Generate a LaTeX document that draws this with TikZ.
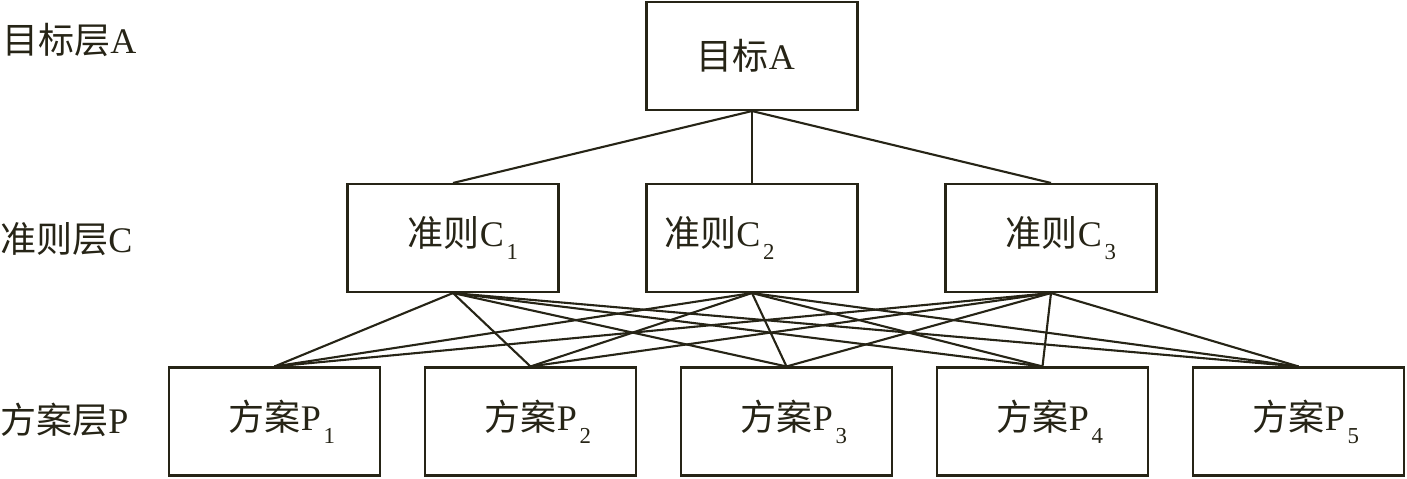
\documentclass[tikz,border=0pt]{standalone}
\usepackage{fontspec}
\setmainfont{Liberation Serif}
\newfontfamily\cjk{Noto Sans CJK SC}
\usetikzlibrary{positioning}
\definecolor{InkLine}{RGB}{38,36,22}
\newcommand{\lowidx}[1]{\kern1.5pt\raisebox{-7.5pt}{\fontsize{13}{13}\selectfont #1}}

\begin{document}
\begin{tikzpicture}[x=0.02cm, y=-0.02cm,
    levelbox/.style={draw=InkLine, line width=1.2pt, minimum width=4.22cm,
        minimum height=2.16cm, inner sep=0pt, text=InkLine,
        font=\fontsize{20.5}{24}\selectfont},
    levellbl/.style={anchor=west, inner sep=0pt, text=InkLine,
        font=\fontsize{20.5}{24}\selectfont},
    link/.style={draw=InkLine, line width=1.2pt}
]
\useasboundingbox (0,0) rectangle (1407,478);

% ===================================================================
% LEVEL LABELS (left column)
% ===================================================================
\node[levellbl] (lblA) at (2,40) {{\cjk 目标层}A};
\node[levellbl] (lblC) at (0,239) {{\cjk 准则层}C};
\node[levellbl] (lblP) at (0,420) {{\cjk 方案层}P};

% ===================================================================
% GOAL (top row)
% ===================================================================
\node[levelbox] (goal) at (752,56) {{\cjk 目标}A\hspace*{0.25cm}};

% ===================================================================
% CRITERIA (middle row)
% ===================================================================
\node[levelbox] (crit1) at (453,238) {\hspace*{0.4cm}{\cjk 准则}C\lowidx{1}};
\node[levelbox] (crit2) at (752,238) {{\cjk 准则}C\lowidx{2}\hspace*{1.3cm}};
\node[levelbox] (crit3) at (1051,238) {\hspace*{0.4cm}{\cjk 准则}C\lowidx{3}};

% ===================================================================
% ALTERNATIVES (bottom row)
% ===================================================================
\foreach \i/\x in {1/274.5, 2/530.5, 3/786.5, 4/1042.5, 5/1298.5} {
    \node[levelbox] (alt\i) at (\x,421.5) {\hspace*{0.3cm}{\cjk 方案}P\lowidx{\i}};
}

% Goal to criteria
\foreach \c in {1,2,3} {
    \draw[link] (goal.south) -- (crit\c.north);
}
% Criteria to alternatives
\foreach \c in {1,2,3} {
    \foreach \p in {1,...,5} {
        \draw[link] (crit\c.south) -- (alt\p.north);
    }
}

\end{tikzpicture}
\end{document}
